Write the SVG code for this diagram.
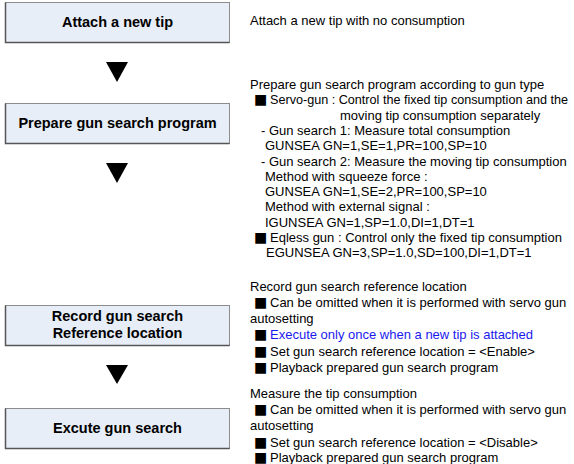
<svg xmlns="http://www.w3.org/2000/svg" width="574" height="464" viewBox="0 0 574 464">
<style>
.box{fill:#e8eef8;stroke:#8c8c8c;stroke-width:1}
.shadow{fill:none;stroke:#555;stroke-width:1.5}
.bt{font-family:"Liberation Sans",Arial,sans-serif;font-weight:bold;font-size:14.5px;fill:#000;text-anchor:middle}
.t{font-family:"Liberation Sans",Arial,sans-serif;font-size:13px;fill:#000}
.b{font-family:"DejaVu Sans",sans-serif;font-size:14px}
.blue{fill:#1a1aee}
.arr{fill:#000}
</style>
<rect width="574" height="464" fill="#fff"/>
<g id="connectors">
<polygon class="arr" points="106,62 128,62 117,82"/>
<polygon class="arr" points="106,163 128,163 117,183"/>
<polygon class="arr" points="106,365 128,365 117,384"/>
</g>
<g id="node1">
<rect class="box" x="5.5" y="2.5" width="224" height="40"/>
<polyline class="shadow" points="5.5,2.5 5.5,42.5 229.5,42.5"/>
<text class="bt" x="117.5" y="27">Attach a new tip</text>
</g>
<g id="node2">
<rect class="box" x="5.5" y="103.5" width="224" height="40"/>
<polyline class="shadow" points="5.5,103.5 5.5,143.5 229.5,143.5"/>
<text class="bt" x="117.5" y="128">Prepare gun search program</text>
</g>
<g id="node3">
<rect class="box" x="5.5" y="305.5" width="224" height="40"/>
<polyline class="shadow" points="5.5,305.5 5.5,345.5 229.5,345.5"/>
<text class="bt" x="117.5" y="321">Record gun search</text>
<text class="bt" x="117.5" y="338">Reference location</text>
</g>
<g id="node4">
<rect class="box" x="5.5" y="408.5" width="224" height="40"/>
<polyline class="shadow" points="5.5,408.5 5.5,448.5 229.5,448.5"/>
<text class="bt" x="117.5" y="433">Excute gun search</text>
</g>
<g id="note1">
<text class="t" x="250" y="25">Attach a new tip with no consumption</text>
</g>
<g id="note2">
<text class="t" x="250" y="89">Prepare gun search program according to gun type</text>
<text class="t" y="104.3"><tspan class="b" x="254">■</tspan><tspan x="270" textLength="298" lengthAdjust="spacingAndGlyphs">Servo-gun : Control the fixed tip consumption and the</tspan></text>
<text class="t" x="340" y="119.6">moving tip consumption separately</text>
<text class="t" x="261" y="134.9">- Gun search 1: Measure total consumption</text>
<text class="t" x="265" y="150.2">GUNSEA GN=1,SE=1,PR=100,SP=10</text>
<text class="t" x="261" y="165.5">- Gun search 2: Measure the moving tip consumption</text>
<text class="t" x="265" y="180.8">Method with squeeze force :</text>
<text class="t" x="265" y="196.1">GUNSEA GN=1,SE=2,PR=100,SP=10</text>
<text class="t" x="265" y="211.4">Method with external signal :</text>
<text class="t" x="265" y="226.7">IGUNSEA GN=1,SP=1.0,DI=1,DT=1</text>
<text class="t" y="242"><tspan class="b" x="254">■</tspan><tspan x="270">Eqless gun : Control only the fixed tip consumption</tspan></text>
<text class="t" x="266" y="257.3">EGUNSEA GN=3,SP=1.0,SD=100,DI=1,DT=1</text>
</g>
<g id="note3">
<text class="t" x="250" y="290.7">Record gun search reference location</text>
<text class="t" y="307"><tspan class="b" x="254">■</tspan><tspan x="270">Can be omitted when it is performed with servo gun</tspan></text>
<text class="t" x="250" y="323">autosetting</text>
<text class="t" y="339.3"><tspan class="b" x="254">■</tspan><tspan x="270" class="blue">Execute only once when a new tip is attached</tspan></text>
<text class="t" y="355.6"><tspan class="b" x="254">■</tspan><tspan x="270">Set gun search reference location = &lt;Enable&gt;</tspan></text>
<text class="t" y="371.9"><tspan class="b" x="254">■</tspan><tspan x="270">Playback prepared gun search program</tspan></text>
</g>
<g id="note4">
<text class="t" x="250" y="398.3">Measure the tip consumption</text>
<text class="t" y="414.3"><tspan class="b" x="254">■</tspan><tspan x="270">Can be omitted when it is performed with servo gun</tspan></text>
<text class="t" x="250" y="430">autosetting</text>
<text class="t" y="446.5"><tspan class="b" x="254">■</tspan><tspan x="270">Set gun search reference location = &lt;Disable&gt;</tspan></text>
<text class="t" y="462.2"><tspan class="b" x="254">■</tspan><tspan x="270">Playback prepared gun search program</tspan></text>
</g>
</svg>
